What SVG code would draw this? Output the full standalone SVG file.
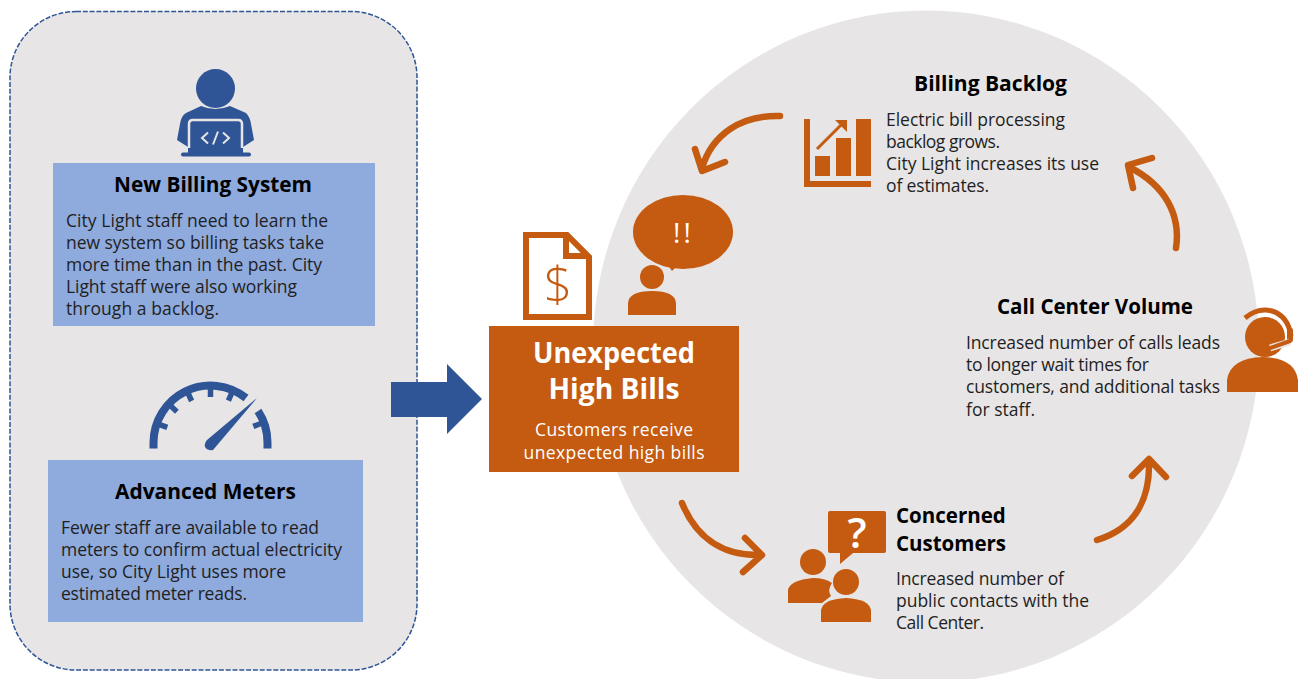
<svg xmlns="http://www.w3.org/2000/svg" width="1302" height="679" viewBox="0 0 1302 679">
<style>
text{font-family:"Open Sans","Noto Sans","Liberation Sans",sans-serif}
.t{font-weight:700;fill:#000;font-size:21.500px}
.b{fill:#1f1f1f;font-size:17.500px}
.w{fill:#fff}
.o{fill:#c55a11}
.n{fill:#2f5597}
.c{fill:none;stroke:#c55a11;stroke-width:6.500;stroke-linecap:round;stroke-linejoin:round}
</style>
<rect width="1302" height="679" fill="#fff"/>
<ellipse id="cycle-background" cx="926" cy="346.500" rx="333" ry="336" fill="#e7e5e5"/>
<g id="causes-panel"><rect x="10" y="11.500" width="407" height="658.500" rx="66" fill="#e7e5e5" stroke="#2f5597" stroke-width="1.500" stroke-dasharray="5 1.800"/></g>
<g id="new-billing-system">
<circle class="n" cx="215.500" cy="88.500" r="19.500"/>
<path class="n" d="M201 106Q215 112 230 106L246 113Q250 117 251 124L254 140L243 147V155H188V147L177 140L180 124Q181 116 186 113Z"/>
<path d="M189 148V124Q189 120 193 120H238Q242 120 242 124V148" fill="none" stroke="#e7e5e5" stroke-width="2.500"/>
<rect class="n" x="181" y="152.500" width="70" height="4" rx="2"/>
<path d="M208 132.500L202 138L208 143.500M223 132.500L229 138L223 143.500M218 131.500L213 144.500" fill="none" stroke="#e7e5e5" stroke-width="2"/>
<rect x="53" y="163" width="322" height="163" fill="#8faadc"/>
<text class="t" x="114" y="192" textLength="198" lengthAdjust="spacingAndGlyphs">New Billing System</text>
<text class="b" x="66" y="226.500" textLength="262">City Light staff need to learn the</text>
<text class="b" x="66" y="248.500" textLength="258">new system so billing tasks take</text>
<text class="b" x="66" y="270.500" textLength="256">more time than in the past. City</text>
<text class="b" x="66" y="292.500" textLength="231">Light staff were also working</text>
<text class="b" x="66" y="314.500" textLength="153">through a backlog.</text>
</g>
<g id="advanced-meters">
<path d="M153.500 448.500V443A57 57 0 0 1 246 398M258 411A57 57 0 0 1 267.500 443V448.500" fill="none" stroke="#2f5597" stroke-width="8"/>
<path d="M158.800 424.300L167.300 427.400M170.300 405.600L176.900 411.700M188 393L191.600 401M210.500 388V397M232 392.400L228.400 400.700M261.600 423.200L253.300 426.400" stroke="#2f5597" stroke-width="5.500" fill="none"/>
<path class="n" d="M257 398L213 450Q208 451 205 447Q204 443 207 440Z"/>
<rect x="48" y="460" width="315" height="162" fill="#8faadc"/>
<text class="t" x="115" y="499" textLength="181" lengthAdjust="spacingAndGlyphs">Advanced Meters</text>
<text class="b" x="61" y="534" textLength="258">Fewer staff are available to read</text>
<text class="b" x="61" y="556" textLength="281">meters to confirm actual electricity</text>
<text class="b" x="61" y="578" textLength="225">use, so City Light uses more</text>
<text class="b" x="61" y="600" textLength="186">estimated meter reads.</text>
</g>
<g id="connectors">
<path id="main-arrow" class="n" d="M391 382H447V364L482 399L447 434V417H391Z"/>
<path class="c" d="M780 116C740 115 712 135 702 168M695 149L702 171L725 162"/>
<path class="c" d="M1176 248C1181 215 1165 185 1129 167M1133 188L1128 165L1152 158"/>
<path class="c" d="M1097 540C1130 530 1150 505 1149 462M1132 476L1149 459L1166 477"/>
<path class="c" d="M682 503C695 535 720 556 760 555M745 538L762 555L743 572"/>
</g>
<g id="unexpected-high-bills">
<path d="M526 235H567L589 257V317H526Z" fill="#fff" stroke="#c55a11" stroke-width="6"/>
<path d="M566 235V256H589" fill="none" stroke="#c55a11" stroke-width="6"/>
<text x="558" y="302" text-anchor="middle" font-size="50" fill="#c55a11" font-weight="300">$</text>
<ellipse class="o" cx="683" cy="232" rx="50" ry="37"/>
<path class="o" d="M668 265L672 271L678 265Z"/>
<text class="w" x="683.500" y="243" text-anchor="middle" font-size="28" letter-spacing="3">!!</text>
<circle class="o" cx="652" cy="277" r="12"/>
<path class="o" d="M628 315V303Q629 291 652 291Q675 291 676 303V315Z"/>
<rect class="o" x="489" y="326" width="250" height="146"/>
<text class="w" x="614" y="363" text-anchor="middle" font-size="28" font-weight="700" textLength="162" lengthAdjust="spacingAndGlyphs">Unexpected</text>
<text class="w" x="614" y="399" text-anchor="middle" font-size="28" font-weight="700" textLength="131" lengthAdjust="spacingAndGlyphs">High Bills</text>
<text class="w" x="614" y="436" text-anchor="middle" font-size="17.500" textLength="158">Customers receive</text>
<text class="w" x="614" y="459" text-anchor="middle" font-size="17.500" textLength="181">unexpected high bills</text>
</g>
<g id="billing-backlog">
<path class="o" d="M804 119H810V181H871V187H804Z"/>
<rect class="o" x="815" y="156" width="15" height="20"/>
<rect class="o" x="836" y="138" width="15" height="38"/>
<rect class="o" x="856" y="119" width="15" height="57"/>
<path d="M817 149L843 123" stroke="#c55a11" stroke-width="3" fill="none"/>
<path class="o" d="M835 120H847V132Z"/>
<text class="t" x="914" y="90.500" textLength="153" lengthAdjust="spacingAndGlyphs">Billing Backlog</text>
<text class="b" x="886" y="125.500" textLength="179">Electric bill processing</text>
<text class="b" x="886" y="147.500" textLength="114">backlog grows.</text>
<text class="b" x="886" y="169.500" textLength="213">City Light increases its use</text>
<text class="b" x="886" y="191.500" textLength="103">of estimates.</text>
</g>
<g id="call-center-volume">
<circle class="o" cx="1265" cy="337" r="20"/>
<path d="M1245 318Q1258 307 1272 311Q1288 316 1291 336" fill="none" stroke="#c55a11" stroke-width="5"/>
<rect class="o" x="1287" y="328" width="6" height="14" rx="2"/>
<path d="M1290 342L1270 348" stroke="#e7e5e5" stroke-width="7"/>
<path d="M1290 341L1270 348" stroke="#c55a11" stroke-width="4" stroke-linecap="round"/>
<path class="o" d="M1227 392V380Q1230 358 1263 357Q1295 358 1298 380V392Z"/>
<text class="t" x="997" y="314" textLength="196" lengthAdjust="spacingAndGlyphs">Call Center Volume</text>
<text class="b" x="966" y="349" textLength="254">Increased number of calls leads</text>
<text class="b" x="966" y="371" textLength="183">to longer wait times for</text>
<text class="b" x="966" y="393" textLength="254">customers, and additional tasks</text>
<text class="b" x="966" y="415.500" textLength="69">for staff.</text>
</g>
<g id="concerned-customers">
<path class="o" d="M830 511H884Q886 511 886 513V551Q886 553 884 553H853L840 564V553H830Q828 553 828 551V513Q828 511 830 511Z"/>
<text class="w" x="857" y="548" text-anchor="middle" font-size="42" font-weight="600">?</text>
<circle class="o" cx="813" cy="562" r="13"/>
<path class="o" d="M788 603V590Q790 580 813 578Q825 578 832 583Q827 590 831 596L822 603Z"/>
<circle class="o" cx="846" cy="582" r="13"/>
<path class="o" d="M821 622V610Q823 599 846 598Q869 599 871 610V622Z"/>
<text class="t" x="896" y="523" style="font-size:20.500px">Concerned</text>
<text class="t" x="896" y="551" style="font-size:20.500px">Customers</text>
<text class="b" x="896" y="584.500" textLength="168">Increased number of</text>
<text class="b" x="896" y="606.500" textLength="193">public contacts with the</text>
<text class="b" x="896" y="628.500" textLength="88">Call Center.</text>
</g>
</svg>
